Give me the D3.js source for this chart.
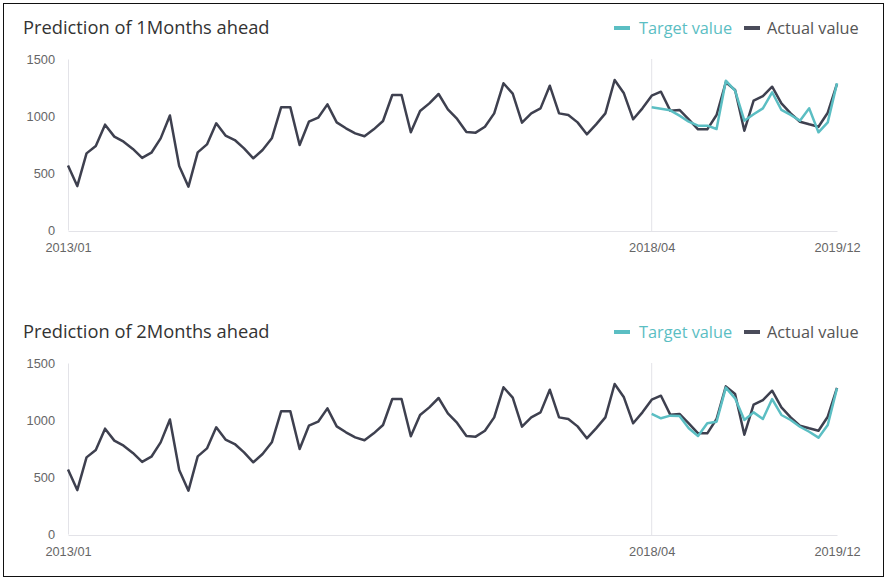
<!DOCTYPE html>
<html>
<head>
<meta charset="utf-8">
<script src="https://cdnjs.cloudflare.com/ajax/libs/d3/7.8.5/d3.min.js"></script>
<style>
	body { margin: 0; background: #fff; }
	svg { display: block; }
	.title { font-family: "Open Sans", sans-serif; font-size: 18.3px; fill: #333; }
	.legend { font-family: "Open Sans", sans-serif; font-size: 16.3px; }
	.tick text, .lbl { font-family: "Liberation Sans", Arial, sans-serif; font-size: 12.8px; fill: #666; }
</style>
</head>
<body>
<svg id="chart" width="887" height="581"></svg>
<script>
	// month labels 2013/01 .. 2019/12
	var months = [];
	for (var y = 2013; y <= 2019; y++) {
		for (var m = 1; m <= 12; m++) months.push(y + "/" + (m < 10 ? "0" + m : m));
	}

	var actual = [
		565, 385, 672, 737, 924, 819, 775, 711, 632, 678, 804, 1005,
		561, 380, 681, 751, 936, 828, 789, 716, 629, 702, 804, 1076,
		1076, 746, 950, 985, 1102, 944, 892, 848, 822, 883, 956, 1184,
		1184, 857, 1044, 1111, 1193, 1059, 974, 860, 854, 906, 1023, 1287,
		1196, 942, 1023, 1067, 1266, 1023, 1009, 944, 839, 927, 1023, 1316,
		1199, 971, 1067, 1178, 1213, 1047, 1053, 971, 883, 883, 1009, 1295,
		1228, 871, 1134, 1175, 1257, 1111, 1023, 950, 927, 906, 1029, 1281
	];

	var forecastStart = "2018/04";
	var target1 = [1076, 1064, 1050, 1003, 950, 915, 915, 886, 1310, 1222, 959,
		1015, 1067, 1208, 1053, 1009, 959, 1067, 857, 944, 1287];
	var target2 = [1053, 1015, 1038, 1035, 927, 860, 971, 985, 1284, 1190, 1000,
		1067, 1009, 1184, 1044, 1000, 941, 897, 845, 956, 1278];

	var titles = ["Prediction of 1Months ahead", "Prediction of 2Months ahead"];
	var targets = [target1, target2];
	var xLabels = ["2013/01", "2018/04", "2019/12"];
	var yTicks = [0, 500, 1000, 1500];

	var colActual = "#3e404f", colTarget = "#5bbec3";

	var svg = d3.select("#chart");
	svg.append("rect")
		.attr("x", 3.5).attr("y", 3.5).attr("width", 880).attr("height", 573)
		.attr("fill", "none").attr("stroke", "#111").attr("stroke-width", 1);

	var x = d3.scalePoint().domain(months).range([68, 837]);
	var startIdx = months.indexOf(forecastStart);

	titles.forEach(function(title, p) {
		var g = svg.append("g").attr("transform", "translate(0," + (p * 304) + ")");
		var yS = d3.scaleLinear().domain([0, 1500]).range([230, 59]);

		g.append("text").attr("class", "title").attr("x", 23).attr("y", 34).text(title);

		// legend
		var lg = g.append("g").attr("class", "legend");
		lg.append("rect").attr("x", 614).attr("y", 26).attr("width", 16).attr("height", 4).attr("fill", colTarget);
		lg.append("text").attr("x", 639).attr("y", 34).attr("fill", colTarget).text("Target value");
		lg.append("rect").attr("x", 744).attr("y", 26).attr("width", 16).attr("height", 4).attr("fill", "#4a4c5a");
		lg.append("text").attr("x", 767).attr("y", 34).attr("fill", "#555").text("Actual value");

		// y axis
		var ya = g.append("g").attr("transform", "translate(68,0)")
			.call(d3.axisLeft(yS).tickValues(yTicks).tickSize(0).tickPadding(13).tickFormat(d3.format("d")));
		ya.select(".domain").attr("stroke", "#e3e3e8");
		ya.selectAll("text").attr("fill", "#666");

		// x axis
		var xa = g.append("g").attr("transform", "translate(0,231)")
			.call(d3.axisBottom(x).tickValues(xLabels).tickSize(0).tickPadding(12));
		xa.select(".domain").attr("stroke", "#e3e3e8");
		xa.selectAll("text").attr("fill", "#666");

		// forecast start line
		g.append("line")
			.attr("x1", x(forecastStart)).attr("x2", x(forecastStart))
			.attr("y1", 59).attr("y2", 231)
			.attr("stroke", "#e3e3e8").attr("stroke-width", 1);

		var line = d3.line()
			.x(function(d) { return x(d.m); })
			.y(function(d) { return yS(d.v); });

		var actData = actual.map(function(v, i) { return {m: months[i], v: v}; });
		var tgtData = targets[p].map(function(v, i) { return {m: months[startIdx + i], v: v}; });

		g.append("path").datum(actData).attr("d", line)
			.attr("fill", "none").attr("stroke", colActual).attr("stroke-width", 2.5).attr("stroke-linejoin", "round");
		g.append("path").datum(tgtData).attr("d", line)
			.attr("fill", "none").attr("stroke", colTarget).attr("stroke-width", 2.5).attr("stroke-linejoin", "round");
	});
</script>
</body>
</html>
